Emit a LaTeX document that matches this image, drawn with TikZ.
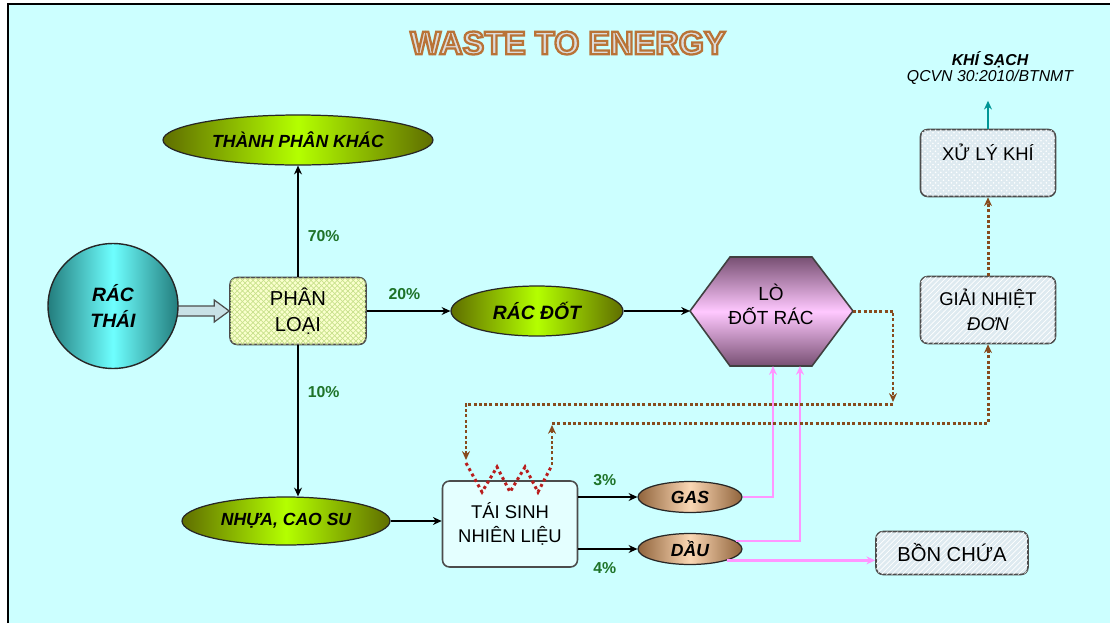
\documentclass[tikz,border=0pt]{standalone}
\usepackage{fontspec}
\setmainfont{Liberation Sans}
\usetikzlibrary{arrows.meta,shapes.geometric,patterns,calc}
\definecolor{bgcyan}{RGB}{204,255,255}
\definecolor{tealdark}{RGB}{35,125,125}
\definecolor{teallight}{RGB}{110,255,255}
\definecolor{olivedark}{RGB}{95,110,0}
\definecolor{olivelight}{RGB}{180,255,0}
\definecolor{mauve}{RGB}{120,80,115}
\definecolor{pinklight}{RGB}{255,200,255}
\definecolor{tandark}{RGB}{145,100,60}
\definecolor{tanlight}{RGB}{250,215,180}
\definecolor{pctgreen}{RGB}{30,115,40}
\definecolor{dotbrown}{RGB}{135,75,30}
\definecolor{zigred}{RGB}{185,30,30}
\definecolor{pinkc}{RGB}{255,150,255}
\definecolor{tealarrow}{RGB}{0,150,150}
\definecolor{cream}{RGB}{250,255,205}
\definecolor{creamhatch}{RGB}{200,225,140}
\definecolor{boxgray}{RGB}{222,234,240}
\definecolor{arrowfill}{RGB}{200,225,230}
\definecolor{titlefill}{RGB}{220,220,220}
% outlined title letters (fill + brown stroke)
\newcommand{\outlined}[1]{\special{pdf:literal direct 2 Tr 1.3 w 0.725 0.451 0.216 RG}#1\special{pdf:literal direct 0 Tr}}
\begin{document}
\begin{tikzpicture}[x=0.02cm, y=-0.02cm, >={Stealth[length=5pt,width=4.5pt]},
  every node/.style={align=center, inner sep=0pt},
  txt/.style={font=\fontsize{10.5}{14}\selectfont},
  ital/.style={font=\fontsize{10}{11}\selectfont\bfseries\itshape},
  pct/.style={font=\fontsize{9}{10}\selectfont\bfseries, text=pctgreen},
  titlef/.style={font=\fontsize{18.5}{20}\selectfont\bfseries},
  box/.style={draw=black!70, line width=0.9pt, rounded corners=4pt, txt},
  hatchbox/.style={box, fill=boxgray, postaction={pattern=north east lines, pattern color=white}},
  greenoval/.style={ellipse, draw=black!85, line width=0.7pt, ital, left color=olivedark, right color=olivedark, middle color=olivelight},
  tanoval/.style={ellipse, draw=black!85, line width=0.7pt, ital, left color=tandark, right color=tandark, middle color=tanlight},
  flow/.style={->, line width=1.1pt},
  pinkflow/.style={->, line width=1.3pt, pinkc},
  dotline/.style={line width=1.7pt, dotbrown, dash pattern=on 1.7pt off 1.3pt},
  zigline/.style={line width=1.7pt, zigred, dash pattern=on 1.7pt off 1.8pt}]
\useasboundingbox (0,0) rectangle (1110,623);
\fill[bgcyan] (8,4) rectangle (1110,623);
\draw[line width=1.2pt] (8,623) -- (8,4) -- (1110,4);

% title
\node[titlef, text=titlefill] (title) at (568,43) {\outlined{WASTE TO ENERGY}};

% nodes
\node[box, minimum width=2.72cm, minimum height=1.34cm, fill=cream, font=\fontsize{11.5}{14.5}\selectfont,
  postaction={pattern=north east lines, pattern color=creamhatch},
  postaction={pattern=north west lines, pattern color=creamhatch}] (phan) at (298,311) {PHÂN\\LOẠI};
\draw[line width=0.7pt, draw=black!70, fill=arrowfill] ($(phan.west)+(-54,-5)$) -- ($(phan.west)+(-15,-5)$)
  -- ($(phan.west)+(-15,-11)$) -- (phan.west) -- ($(phan.west)+(-15,11)$) -- ($(phan.west)+(-15,5)$) -- ($(phan.west)+(-54,5)$);
\node[ellipse, draw=black!85, line width=0.8pt, minimum width=2.6cm, minimum height=2.5cm,
  left color=tealdark, right color=tealdark, middle color=teallight,
  font=\fontsize{11}{15}\selectfont\bfseries\itshape] (rac) at (113,306) {RÁC\\THÁI};
\node[greenoval, minimum width=5.4cm, minimum height=1cm] (tpk) at (298,140) {THÀNH PHÂN KHÁC};
\node[greenoval, minimum width=3.44cm, minimum height=1cm, font=\fontsize{11}{12}\selectfont\bfseries\itshape] (racdot) at (537,311) {RÁC ĐỐT};
\node[greenoval, minimum width=4.16cm, minimum height=0.96cm] (nhua) at (286,521) {NHỰA, CAO SU};

\draw[draw=black!75, line width=0.9pt, top color=mauve, bottom color=mauve, middle color=pinklight]
  (690,311) -- (730,257) -- (812,257) -- (853,311) -- (812,366) -- (730,366) -- cycle;
\coordinate (lo-w) at (690,311);
\coordinate (lo-e) at (853,311);
\coordinate (lo-s1) at (773,366);
\coordinate (lo-s2) at (800,366);
\node[font=\fontsize{10.8}{13.5}\selectfont] (lo) at (771,304) {LÒ\\ĐỐT RÁC};

\node[box, minimum width=2.7cm, minimum height=1.72cm, fill={rgb,255:red,228;green,255;blue,255}] (taisinh) at (510,524) {TÁI SINH\\NHIÊN LIỆU};
\node[tanoval, minimum width=2.08cm, minimum height=0.62cm] (gas) at (690,497) {GAS};
\node[tanoval, minimum width=2.08cm, minimum height=0.62cm] (dau) at (690,549) {DẦU};
\node[hatchbox, minimum width=3.04cm, minimum height=0.86cm, font=\fontsize{11.5}{14}\selectfont] (bon) at (952,553) {BỒN CHỨA};
\node[hatchbox, minimum width=2.7cm, minimum height=1.34cm] (giai) at (988,310) {GIẢI NHIỆT\\\textit{ĐƠN}};
\node[box, minimum width=2.7cm, minimum height=1.34cm, text depth=22pt*0.567, fill=boxgray,
  postaction={pattern=crosshatch dots, pattern color=white}] (xuly) at (988,163) {XỬ LÝ KHÍ};
\node[font=\fontsize{9}{9.5}\selectfont\itshape] (khi) at (990,68) {\textbf{KHÍ SẠCH}\\QCVN 30:2010/BTNMT};

% connectors
\draw[flow] (phan.north) -- (tpk.south) node[pct, pos=0.37, right=5pt] {70\%};
\draw[flow] (phan.south) -- (phan.south |- nhua.north) node[pct, pos=0.31, right=5pt] {10\%};
\draw[flow] (phan.east) -- (racdot.west) node[pct, pos=0.45, above=6pt] {20\%};
\draw[flow] (racdot.east) -- (lo-w);
\draw[flow] (nhua.east) -- (taisinh.west |- nhua.east);
\draw[flow] (taisinh.east |- gas.west) -- (gas.west) node[pct, pos=0.45, above=6pt] {3\%};
\draw[flow] (taisinh.east |- dau.west) -- (dau.west) node[pct, pos=0.45, below=7pt] {4\%};
\draw[pinkflow] (gas.east) -| (lo-s1);
\draw[pinkflow] (dau.10) -| (lo-s2);
\draw[pinkflow] (dau.-17) -- (bon.west |- dau.-17);
\draw[->, line width=1.3pt, tealarrow] (xuly.north) -- ++(0,-28);
\draw[dotline, ->] (giai.north) -- (xuly.south);
\draw[dotline, ->] (lo-e) -| (893,402);
\draw[dotline, ->] (893,404) -| (466,460);
\draw[zigline] (466,463) -- (482,492) -- (497,467) -- (510,492) -- (525,467) -- (538,492) -- (552,465);
\draw[dotline, ->] (552,465) -- (552,425);
\draw[dotline, ->] (552,423) -| (giai.south);
\end{tikzpicture}
\end{document}
